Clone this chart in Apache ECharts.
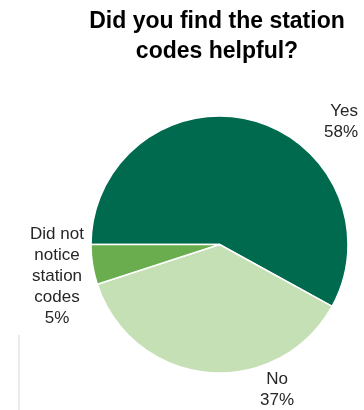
<!DOCTYPE html>
<html><head><meta charset="utf-8">
<script src="https://cdn.jsdelivr.net/npm/echarts@6/dist/echarts.min.js"></script>
<style>html,body{margin:0;padding:0;background:#fff}#c{width:364px;height:410px}</style>
</head><body><div id="c"></div>
<script>
var titleText = "Did you find the station\ncodes helpful?";
var categories = ["Yes", "No", "Did not notice station codes"];
var labelNames = ["Yes", "No", "Did not\nnotice\nstation\ncodes"];
var values = [58, 37, 5];
var colors = ["#006A4E", "#C5E0B4", "#6AAD4F"];

var labelPos = [
  {x: 358, y: 122, align: 'right'},
  {x: 277, y: 390, align: 'center'},
  {x: 57, y: 276, align: 'center'}
];

var chart = echarts.init(document.getElementById('c'), null, {renderer: 'canvas'});
chart.setOption({
  animation: false,
  title: {
    text: titleText, left: 212, top: 2, textAlign: 'center',
    textStyle: {fontFamily: 'Liberation Sans', fontWeight: 'bold', fontSize: 23, lineHeight: 30, color: '#000'}
  },
  graphic: [{
    type: 'rect', shape: {x: 18, y: 335, width: 2, height: 75},
    style: {fill: '#ebebeb'}
  }],
  series: [{
    type: 'pie',
    center: [219.5, 244.5],
    radius: 128.5,
    startAngle: 180,
    clockwise: true,
    data: categories.map(function (c, i) {
      return {name: c, value: values[i], itemStyle: {color: colors[i]}};
    }),
    itemStyle: {borderColor: '#fff', borderWidth: 1.5},
    label: {
      show: true,
      position: 'inside',
      overflow: 'none',
      formatter: function (p) { return labelNames[p.dataIndex] + '\n' + values[p.dataIndex] + '%'; },
      fontFamily: 'Liberation Sans', fontSize: 17, lineHeight: 21, color: '#262626',
      align: 'center'
    },
    labelLine: {show: false},
    labelLayout: function (params) {
      var p = labelPos[params.dataIndex];
      return {x: p.x, y: p.y, align: p.align, verticalAlign: 'middle'};
    }
  }]
});
</script></body></html>
